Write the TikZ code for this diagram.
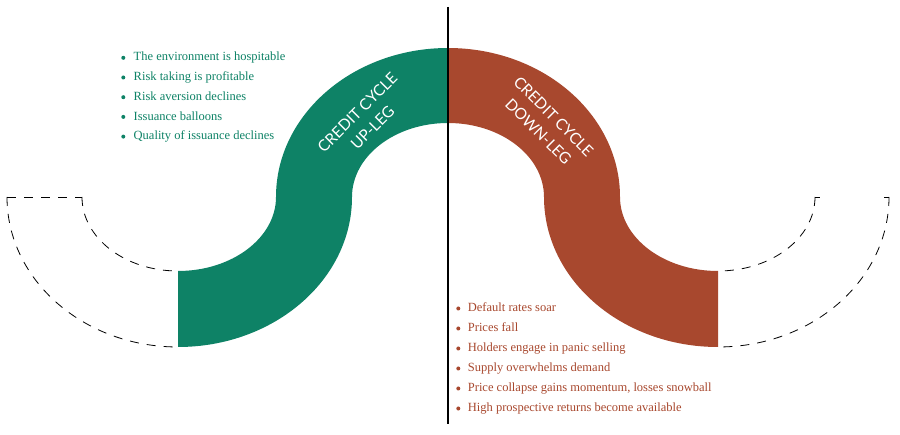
\documentclass[tikz,border=0pt]{standalone}
\usepackage{fontspec}
\setmainfont{Liberation Serif}
\newfontfamily\labelfont{Lato}
\definecolor{upgreen}{RGB}{14,130,102}
\definecolor{downred}{RGB}{168,72,46}
\tikzset{
  dashedge/.style={draw=black, line width=0.8pt, dash pattern=on 9pt off 8pt},
  listitem/.style={anchor=base west, inner sep=0pt, font=\fontsize{12.5}{15}\selectfont},
  bulletdot/.style={circle, inner sep=0pt, minimum size=4pt},
  leglabel/.style={text=white, align=center, inner sep=0pt, font=\labelfont\fontsize{15.5}{21.5}\selectfont},
}
\begin{document}
\begin{tikzpicture}[x=1pt,y=1pt]
\useasboundingbox (0,0) rectangle (900,434);
% green up-leg band
\fill[upgreen] (178,87) -- (178,163)
  arc[start angle=-90, end angle=0, x radius=98pt, y radius=74pt]
  arc[start angle=180, end angle=90, x radius=172pt, y radius=149pt]
  -- (448,311)
  arc[start angle=90, end angle=180, x radius=96pt, y radius=74pt]
  arc[start angle=0, end angle=-90, x radius=174pt, y radius=150pt]
  -- cycle;
% red down-leg band
\fill[downred] (718,87) -- (718,163)
  arc[start angle=-90, end angle=-180, x radius=98pt, y radius=74pt]
  arc[start angle=0, end angle=90, x radius=172pt, y radius=149pt]
  -- (448,311)
  arc[start angle=90, end angle=0, x radius=96pt, y radius=74pt]
  arc[start angle=180, end angle=270, x radius=174pt, y radius=150pt]
  -- cycle;
% dashed continuation, left
\coordinate (lo) at (7,237);
\coordinate (li) at (82,237);
\draw[dashedge] (lo) arc[start angle=180, end angle=270, x radius=171pt, y radius=150pt];
\draw[dashedge] (li) arc[start angle=180, end angle=270, x radius=96pt, y radius=74pt];
\draw[dashedge] (lo) -- (li);
% dashed continuation, right
\coordinate (ro) at (889,237);
\coordinate (ri) at (815,237);
\draw[dashedge] (ro) arc[start angle=0, end angle=-90, x radius=171pt, y radius=150pt];
\draw[dashedge] (ri) arc[start angle=0, end angle=-90, x radius=97pt, y radius=74pt];
\draw[draw=black, line width=0.8pt] (ri) -- ++(5,0);
\draw[draw=black, line width=0.8pt] (ro) -- ++(-5,0);
% divider
\coordinate (vt) at (448,427);
\coordinate (vb) at (448,10);
\draw[black, line width=1.4pt] (vt) -- (vb);
% band labels
\node[leglabel, rotate=45] (uplabel) at (365,314) {CREDIT CYCLE\\UP-LEG};
\node[leglabel, rotate=-45] (downlabel) at (546,310) {CREDIT CYCLE\\DOWN-LEG};
% left list
\foreach \t [count=\i] in {The environment is hospitable, Risk taking is profitable, Risk aversion declines, Issuance balloons, Quality of issuance declines}{
  \node[listitem, text=upgreen] (up\i) at (133.5,{434-61-(\i-1)*19.7}) {\t};
  \node[bulletdot, fill=upgreen] (upb\i) at (123.3,{434-61-(\i-1)*19.7+3.2}) {};
}
% right list
\foreach \t [count=\i] in {Default rates soar, Prices fall, Holders engage in panic selling, Supply overwhelms demand, {Price collapse gains momentum, losses snowball}, High prospective returns become available}{
  \node[listitem, text=downred] (dn\i) at (467.7,{434-311.7-(\i-1)*20}) {\t};
  \node[bulletdot, fill=downred] (dnb\i) at (458.3,{434-311.7-(\i-1)*20+3.2}) {};
}
\end{tikzpicture}
\end{document}
